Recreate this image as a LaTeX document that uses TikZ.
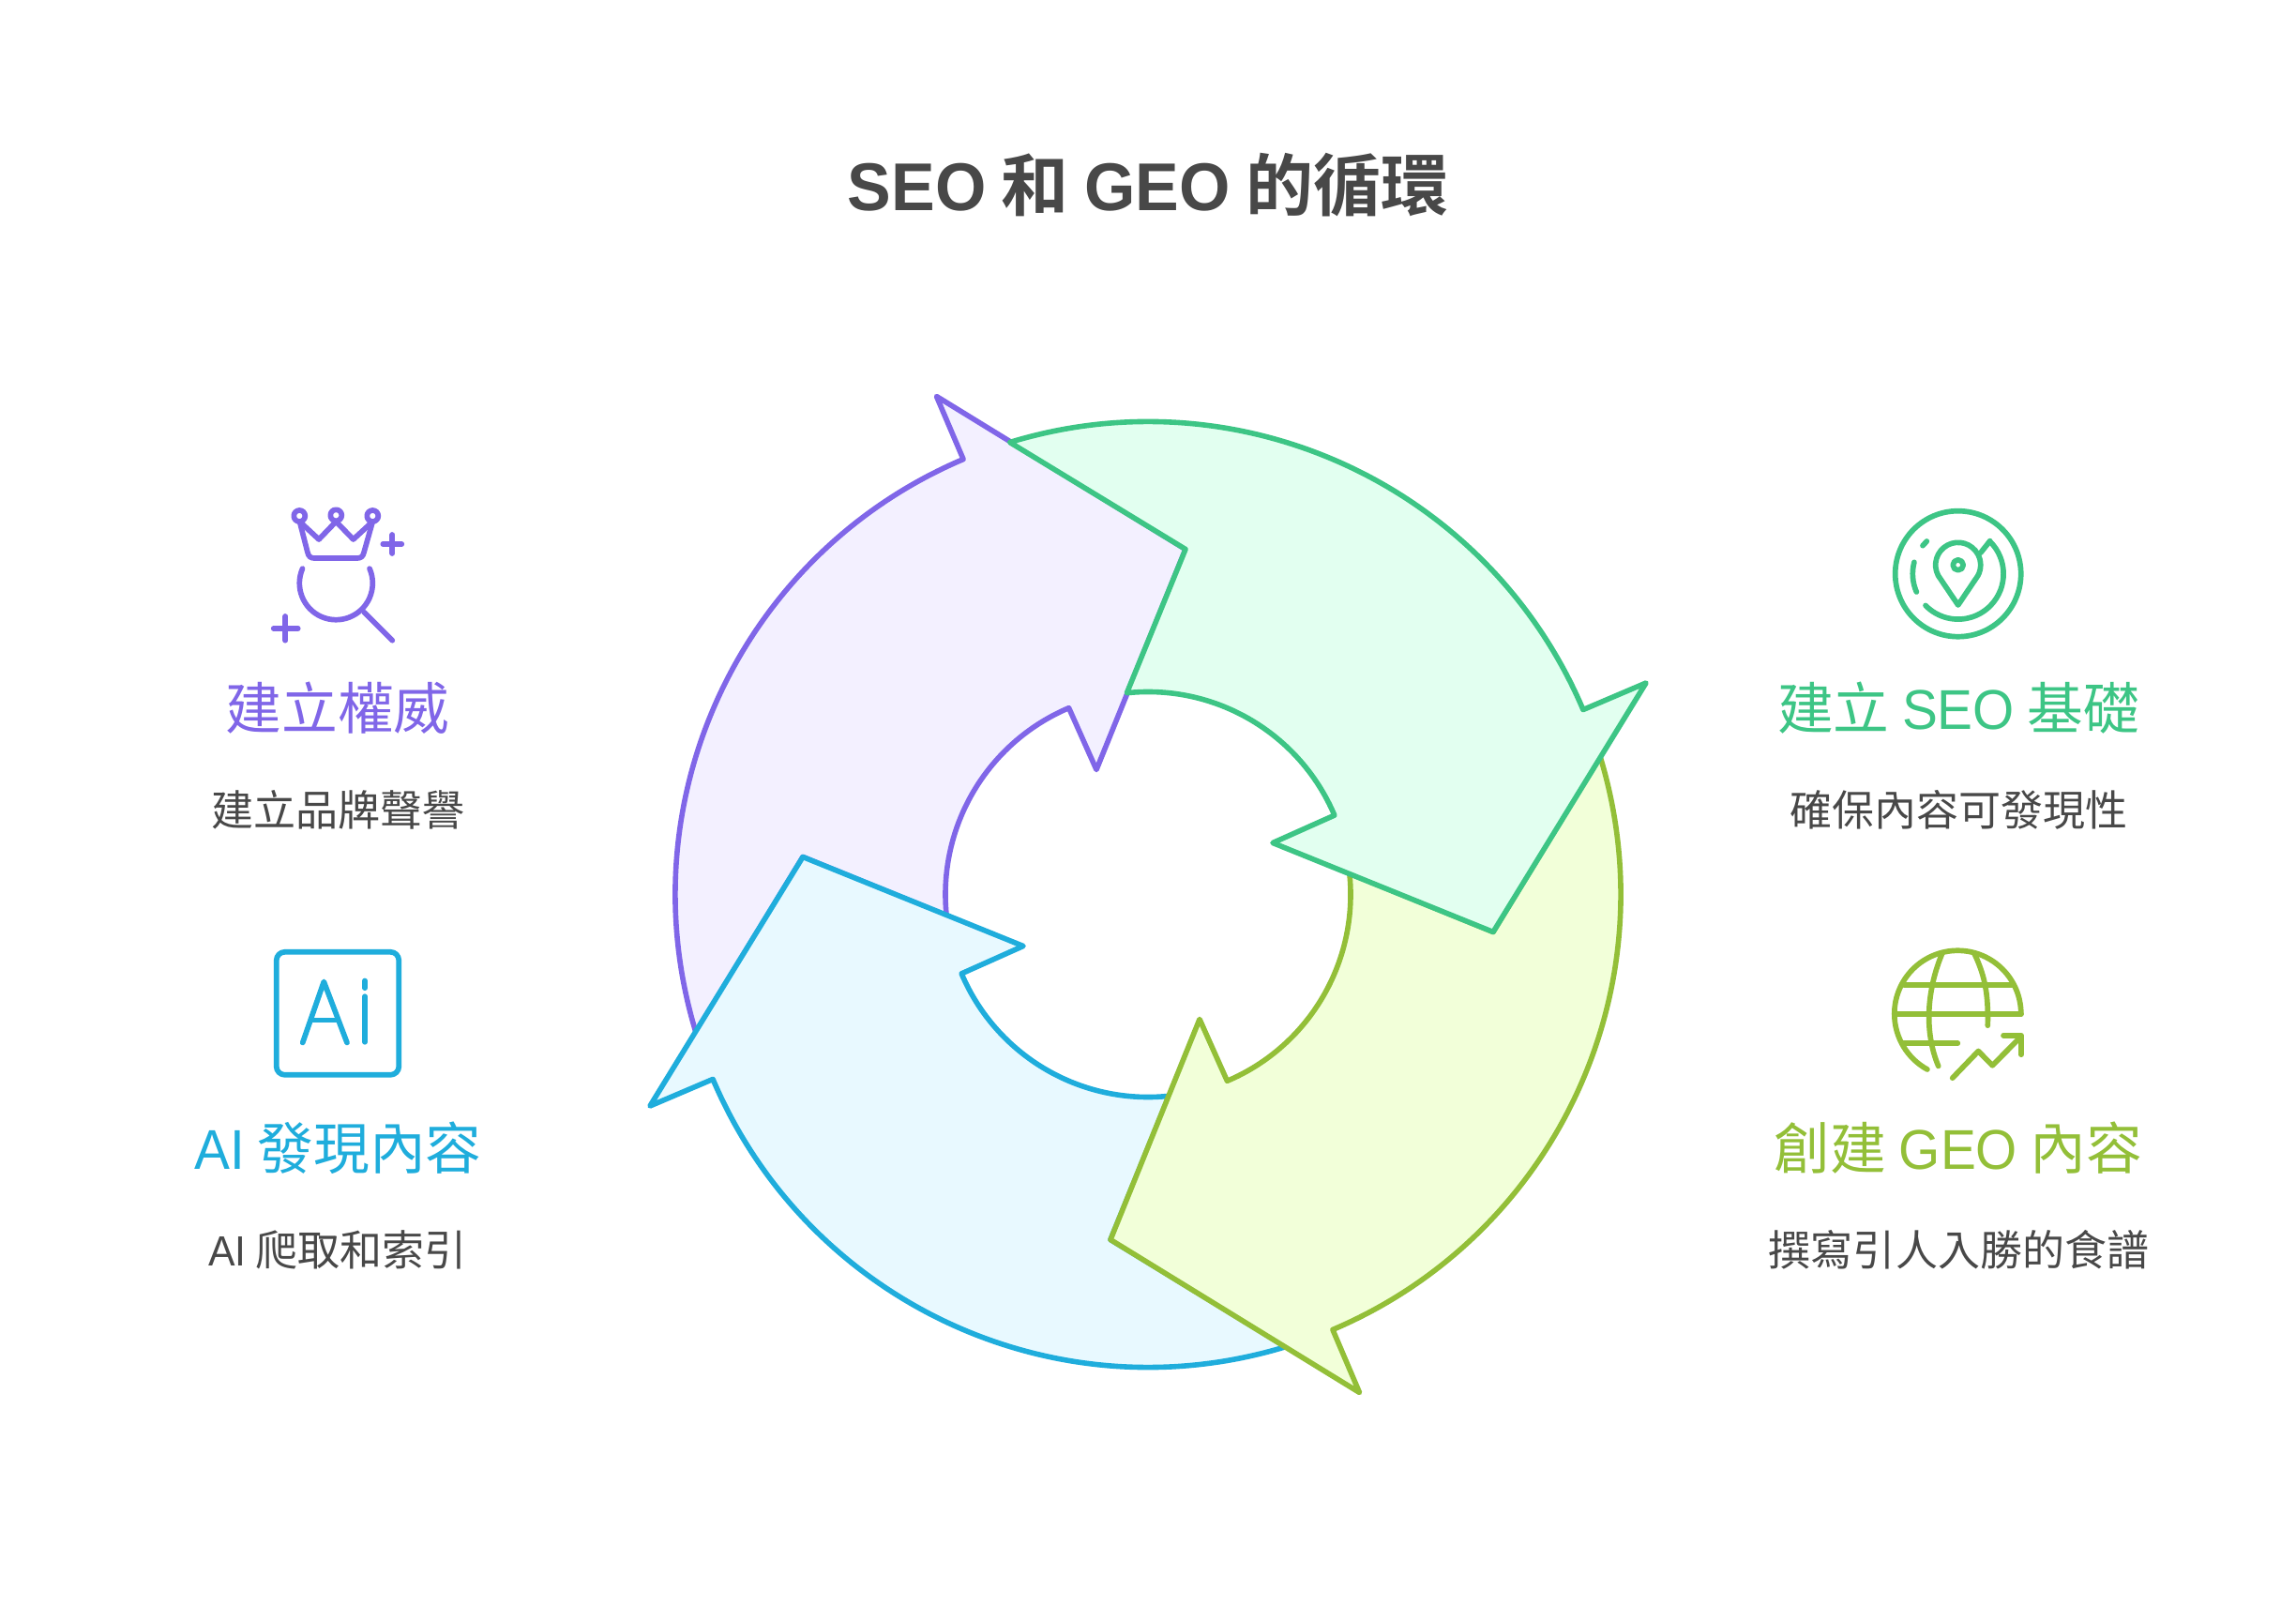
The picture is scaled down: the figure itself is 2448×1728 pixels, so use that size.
\documentclass[tikz,border=0pt]{standalone}
\usetikzlibrary{calc}
\usepackage{fontspec}
\setmainfont{Liberation Sans}
\newfontfamily\cjk{Noto Sans CJK TC}[BoldFont={Noto Sans CJK TC Bold}]
\newfontfamily\lat{Liberation Sans}[FakeStretch=0.95]
\newfontfamily\lattitle{Liberation Sans}[FakeStretch=0.97]
\definecolor{cpurple}{HTML}{8066E8}
\definecolor{fpurple}{HTML}{F3F0FF}
\definecolor{cgreen}{HTML}{3DC585}
\definecolor{fgreen}{HTML}{E2FFF0}
\definecolor{clime}{HTML}{93BF38}
\definecolor{flime}{HTML}{F2FFD9}
\definecolor{cblue}{HTML}{1FADDC}
\definecolor{fblue}{HTML}{E8F9FF}
\definecolor{ctext}{HTML}{484848}
\newcommand{\ringarrow}[3]{%
  \begin{scope}[shift={(1224,953.5)},y=.01cm,rotate=#1]
    \draw[ring,draw=#2,fill=#3]
      (107:504) arc[start angle=107,end angle=23,radius=504]
      -- (531,225.5) -- (368,-40) -- (133,55) -- (23:216)
      arc[start angle=23,end angle=96,radius=216]
      -- (40,368) -- cycle;
  \end{scope}}
\tikzset{
  x=.01cm,y=-.01cm,
  ring/.style={line width=.056cm,line join=round},
  icon/.style={line width=.057cm,line cap=round,line join=round,fill=none},
  heading/.style={font=\fontsize{17pt}{20pt}\selectfont\cjk,inner sep=0pt,anchor=center},
  desc/.style={font=\fontsize{12.8pt}{16pt}\selectfont\cjk,text=ctext,inner sep=0pt,anchor=center},
  titletext/.style={font=\fontsize{20.5pt}{24pt}\selectfont\cjk\bfseries,text=ctext,inner sep=0pt,anchor=center},
}
\begin{document}
\begin{tikzpicture}
\useasboundingbox (0,0) rectangle (2448,1728);
\fill[white] (0,0) rectangle (2448,1728);
\node[titletext] (title) at (1224,197) {{\lattitle\bfseries SEO} 和 {\lattitle\bfseries GEO} 的循環};

\ringarrow{90}{cpurple}{fpurple}
\ringarrow{180}{cblue}{fblue}
\ringarrow{270}{clime}{flime}
\ringarrow{0}{cgreen}{fgreen}

% crown icon
\begin{scope}[icon,draw=cpurple,shift={(0,1)}]
\draw (319.3,549) circle[radius=6];
\draw (358.3,548.3) circle[radius=6];
\draw (397.3,549) circle[radius=6];
\draw (319.5,555) -- (328,588) .. controls (329,592) and (331,594) .. (335,594) -- (381,594) .. controls (385,594) and (387,592) .. (388,588) -- (397.3,555);
\draw (319.5,555) -- (340,574) -- (358.3,555) -- (376.7,574) -- (397.3,555);
\draw (358.3,620.7) ++(203.5:39) arc[start angle=203.5,end angle=-23.5,radius=39];
\draw (388.3,651.7) -- (418.3,681.7);
\draw (408.3,579) -- (428.3,579) (418.3,569) -- (418.3,589);
\draw (291.7,669) -- (317.7,669) (304.3,656) -- (304.3,681.7);
\end{scope}

% Ai icon
\begin{scope}[icon,draw=cblue,shift={(0,1.5)}]
\draw[rounded corners=.09cm] (294.7,1013.3) rectangle (425.3,1144.3);
\draw (322.7,1110) -- (345.3,1045) -- (370,1110);
\draw (333.3,1086) -- (360,1086);
\draw (389,1044) -- (389,1051.7);
\draw (389,1060.7) -- (389,1109.3);
\end{scope}

% pin icon
\begin{scope}[icon,draw=cgreen]
\draw (2087.7,611.7) circle[radius=67];
\draw (2111.7,589.3) -- (2121.7,576.7);
\draw (2087.7,611.7) ++(-45.8:48.4) arc[start angle=-45.8,end angle=135.8,radius=48.4];
\draw (2050,581.7) -- (2054.3,577);
\draw (2087.7,611.7) ++(194.8:48.4) arc[start angle=194.8,end angle=156.4,radius=48.4];
\draw (2087.7,602.3) circle[radius=5.5];
\draw (2087.7,645) -- ($(2087.7,602.3)+(152:24)$) arc[start angle=152,end angle=388,radius=24] -- cycle;
\end{scope}

% globe icon
\begin{scope}[icon,draw=clime,shift={(0,1.5)}]
\draw (2087.3,1079.3) ++(0:67.5) arc[start angle=360,end angle=118.7,radius=67.5];
\draw (2022.7,1079.3) -- (2155,1079.3);
\draw (2030,1048.3) -- (2146.7,1048.3);
\draw (2028.3,1110.7) -- (2087.3,1110.7);
\draw (2070.7,1015) .. controls (2056,1050) and (2050,1095) .. (2066.7,1135);
\draw (2105,1015) .. controls (2117,1040) and (2120,1060) .. (2119.3,1091.7);
\draw (2081.7,1147.7) -- (2109.3,1119) -- (2124.3,1134.3) -- (2155,1103.3);
\draw (2136,1102.3) -- (2155,1102.3) -- (2155,1122.7);
\end{scope}

\node[heading,text=cpurple] (h1) at (360,754.5) {建立權威};
\node[desc] (d1) at (360.5,863.5) {建立品牌聲譽};
\node[heading,text=cblue] (h2) at (360.5,1223.5) {{\lat AI} 發現內容};
\node[desc] (d2) at (360,1332.5) {{\lat AI} 爬取和索引};
\node[heading,text=cgreen] (h3) at (2088,754.5) {建立 {\lat SEO} 基礎};
\node[desc] (d3) at (2088.5,863.5) {確保內容可發現性};
\node[heading,text=clime] (h4) at (2088,1223.5) {創建 {\lat GEO} 內容};
\node[desc] (d4) at (2088.5,1332.5) {撰寫引人入勝的食譜};
\end{tikzpicture}
\end{document}
